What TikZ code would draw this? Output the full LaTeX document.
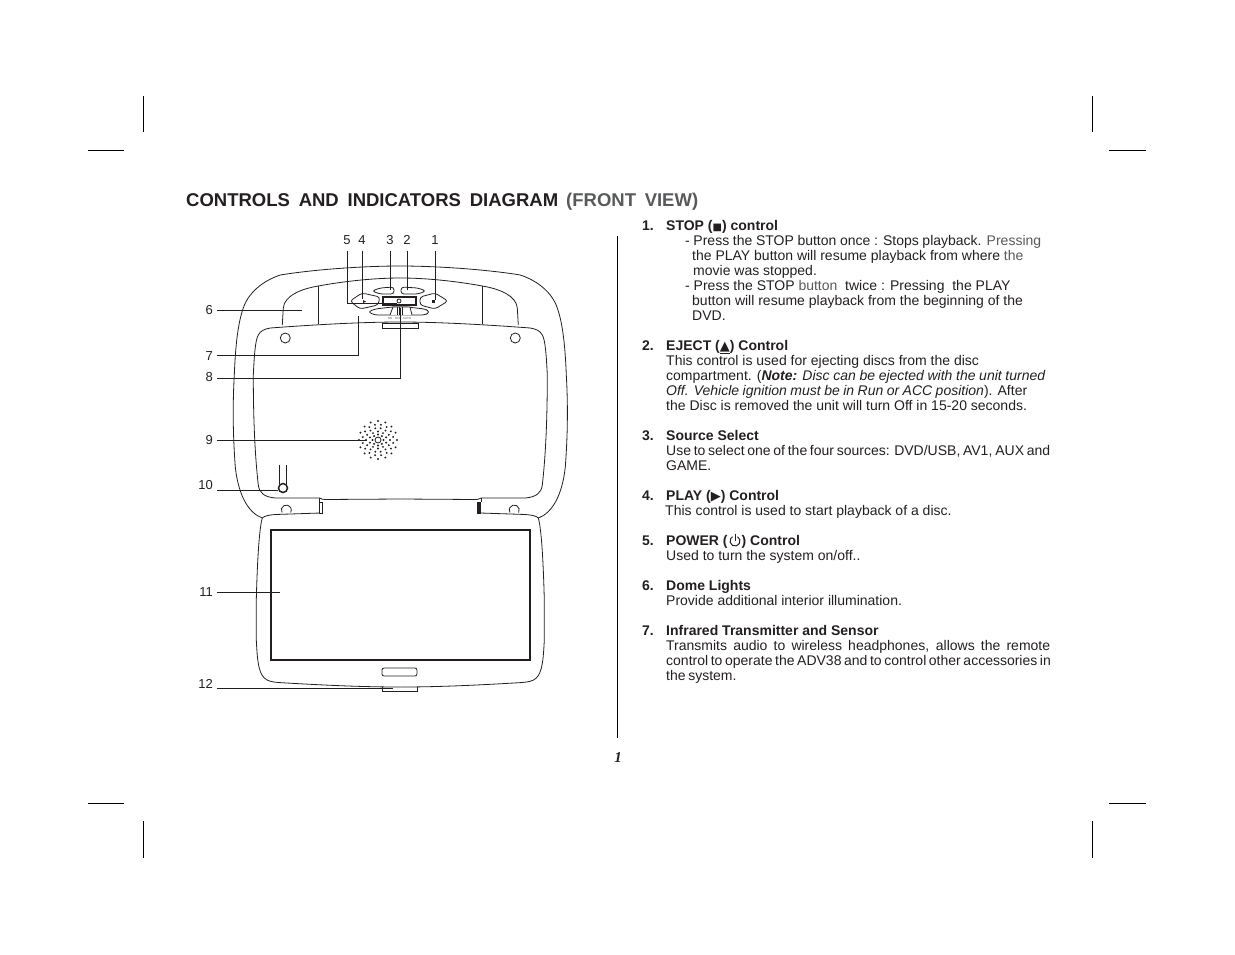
\documentclass[tikz,border=0pt]{standalone}
\usepackage{fontspec}
\setmainfont{Liberation Sans}
\newfontfamily\symfont{DejaVu Sans}
\newfontfamily\pagefont{Liberation Serif}
\definecolor{inkdark}{HTML}{231F20}
\definecolor{inkgrey}{HTML}{58595B}
\newcommand{\fitline}[2]{\makebox[#1pt][s]{#2}}
\newcommand{\smallsym}[1]{{\symfont\fontsize{10}{10}\selectfont #1}}
\newcommand{\widesym}[1]{{\symfont\fontsize{13}{13}\selectfont #1}}
\tikzset{
  line/.style={draw=inkdark,line width=0.8pt},
  leader/.style={draw=inkdark,line width=0.9pt},
  crop/.style={draw=black,line width=0.9pt},
  number/.style={inner sep=0pt,text=inkdark,font=\fontsize{13}{15}\selectfont},
  body/.style={inner sep=0pt,anchor=base west,text=inkdark,font=\fontsize{14}{15}\selectfont},
  head/.style={body,font=\fontsize{14}{15}\selectfont\bfseries},
  title/.style={body,font=\fontsize{18.5}{20}\selectfont\bfseries}
}
\begin{document}
\begin{tikzpicture}[x=1pt,y=-1pt]
\useasboundingbox (0,0) rectangle (1235,954);
%Schnittmarken
\draw [crop] (88,150)--(124,150);
\draw [crop] (143,96)--(143,132);
\draw [crop] (1092,96)--(1092,132);
\draw [crop] (1109,150)--(1146,150);
\draw [crop] (88,803)--(124,803);
\draw [crop] (143,821)--(143,858);
\draw [crop] (1092,821)--(1092,858);
\draw [crop] (1109,803)--(1146,803);
\draw [crop] (617,236)--(617,738);

%Titel
\node (titlea) [title] at (186,206.5) {\fitline{372}{CONTROLS AND INDICATORS DIAGRAM}};
\node (titleb) [title,text=inkgrey] at (566,206.5) {\fitline{132}{(FRONT VIEW)}};

%Gehäuse, beide Hälften
\foreach \sx in {1,-1} {
\begin{scope}[shift={(400.3,0)},xscale=\sx]
\draw [line] (-138,518) .. controls (-152,513) and (-162,495) .. (-165,467) .. controls (-167,440) and (-168,410) .. (-166,375) .. controls (-165,350) and (-163,325) .. (-157,308) .. controls (-152,293) and (-138,281) .. (-120,275) .. controls (-90,270) and (-40,266) .. (0,266);
\draw [line] (-77,499.5)--(-81,498)--(-125,498) .. controls (-136,497) and (-141,493) .. (-142,485) .. controls (-146,450) and (-147,410) .. (-147,375) .. controls (-146,355) and (-145,340) .. (-142,335) .. controls (-140,331) and (-136,329) .. (-130,328) .. controls (-90,325) and (-40,322) .. (0,322);
\draw [line] (-77,499.5)--(0,499);
\draw [line] (-81,498)--(-81,502);
\draw [line] (-118,325)--(-117,308) .. controls (-116,296) and (-100,289) .. (-82,286) .. controls (-55,281) and (-25,278) .. (0,278);
\draw [line] (-82,286)--(-82,324);
\draw [line] (-115,338) circle [radius=5];
%Bildschirmteil
\draw [line] (-80,513)--(-125,514.5) .. controls (-132,515) and (-136,516) .. (-138,518) .. controls (-141,528) and (-143,560) .. (-144,600)--(-144,640) .. controls (-143,660) and (-142,672) .. (-136,678) .. controls (-133,681) and (-128,682) .. (-122,682.5) .. controls (-80,685) and (-40,687) .. (0,687);
\draw [line] (-118.3,512.5) arc [start angle=-210,end angle=30,radius=5];
\end{scope}
}
\draw [line,fill=white] (319.3,502) rectangle (322,513);
\draw [line,fill=inkdark] (477.3,502) rectangle (480.7,513);
\draw [line,fill=white] (382,323) rectangle (418,328);
\draw [line,line width=1.8pt] (271,530) rectangle (530,660);
\draw [line,rounded corners=2pt] (382,668) rectangle (417,676);
\draw [line] (382,687)--(382,691)--(417,691)--(417,687);

%Tasten
\draw [line,rounded corners=3pt] (350,301)--(362,293)--(380,297)--(378,305)--(360,309)--cycle;
\draw [line,rounded corners=3pt] (448,301)--(435,293)--(420,297)--(420,305)--(435,309)--cycle;
\fill [inkdark] (363,300)--(366,301.5)--(363,303)--cycle;
\fill [inkdark] (432,300) rectangle (435,303);
\draw [line,rounded corners=3pt] (372,291)--(380,288)--(394,287)--(394,294)--(380,294)--cycle;
\draw [line,rounded corners=3pt] (426,291)--(418,288)--(401,287)--(401,294)--(418,294)--cycle;
\draw [line,line width=1.2pt] (383,297) rectangle (416,305);
\draw [line] (399,301) circle [radius=2];
\draw [line,rounded corners=3pt] (368,312)--(375,309)--(392,307)--(407,307)--(425,309)--(430,312)--(425,315)--(410,315)--(390,315)--(375,315)--cycle;
\draw [line,fill=white] (390,315)--(393,307)--(410,307)--(412,315);
\draw [line] (397,307)--(397,315) (399.5,307)--(399.5,315) (402,307)--(402,315);
\node (modeon) [number,text=inkgrey,font=\fontsize{3}{3}\selectfont] at (390,318) {ON};
\node (modeoff) [number,text=inkgrey,font=\fontsize{3}{3}\selectfont] at (398,318) {OFF};
\node (modeauto) [number,text=inkgrey,font=\fontsize{3}{3}\selectfont] at (407,318) {AUTO};

%Lautsprecher
\foreach \rad/\num/\off in {19/16/0,15.5/16/11,12/14/0,8.5/10/18,5.5/8/0} {
  \foreach \i in {1,...,\num} {
    \fill [inkdark] ({378+\rad*cos(360*\i/\num+\off)},{440+\rad*sin(360*\i/\num+\off)}) circle [radius=1.05];
  }
}
\draw [line] (378,440) circle [radius=3];

%Sensor
\draw [line] (279.5,465)--(279.5,484) (286,465)--(286,484);
\draw [line,line width=1.5pt,fill=white] (283,488) circle [radius=4.5];

%Nummern mit Linien
\coordinate (stop5) at (397,303);
\coordinate (stop4) at (362,299);
\coordinate (stop3) at (390,290);
\coordinate (stop2) at (407,290);
\coordinate (stop1) at (435,300);
\coordinate (stop6) at (302,310);
\coordinate (stop7) at (358,316);
\coordinate (stop8) at (400,308);
\coordinate (stop9) at (367,440);
\coordinate (stop10) at (278,490);
\coordinate (stop11) at (280,592);
\coordinate (stop12) at (393,688);
\coordinate (bend7) at (358,355);
\coordinate (bend8) at (400,378);

\node (num5) [number,inner ysep=6pt] at (347,240) {5};
\node (num4) [number,inner ysep=6pt] at (362,240) {4};
\node (num3) [number,inner ysep=6pt] at (390,240) {3};
\node (num2) [number,inner ysep=6pt] at (407,240) {2};
\node (num1) [number,inner ysep=6pt] at (435,240) {1};
\node (num6) [number,anchor=east,inner xsep=4pt] at (217,310) {6};
\node (num7) [number,anchor=east,inner xsep=4pt] at (217,356) {7};
\node (num8) [number,anchor=east,inner xsep=4pt] at (217,377) {8};
\node (num9) [number,anchor=east,inner xsep=4pt] at (217,440) {9};
\node (num10) [number,anchor=east,inner xsep=4pt] at (217,485) {10};
\node (num11) [number,anchor=east,inner xsep=4pt] at (217,592) {11};
\node (num12) [number,anchor=east,inner xsep=4pt] at (217,684) {12};

\draw [leader] (num5.south) |- (stop5);
\draw [leader] (num4.south) -- (stop4);
\draw [leader] (num3.south) -- (stop3);
\draw [leader] (num2.south) -- (stop2);
\draw [leader] (num1.south) -- (stop1);
\draw [leader] (num6.east |- stop6) -- (stop6);
\draw [leader] (num7.east |- bend7) -- (bend7) -- (stop7);
\draw [leader] (num8.east |- bend8) -- (bend8) -- (stop8);
\draw [leader] (num9.east |- stop9) -- (stop9);
\draw [leader] (num10.east |- stop10) -- (stop10);
\draw [leader] (num11.east |- stop11) -- (stop11);
\draw [leader] (num12.east |- stop12) -- (stop12);

%Text rechts
\node (ia) [head] at (642,230) {1.};
\node (ia0) [head] at (666,230) {STOP (\smallsym{■}) control};
\node (ia1) [body] at (685,245) {\fitline{356}{- Press the STOP button once : Stops playback. {\color{inkgrey}Pressing}}};
\node (ia2) [body] at (692,260) {the PLAY button will resume playback from where {\color{inkgrey}the}};
\node (ia3) [body] at (693,275) {movie was stopped.};
\node (ia4) [body] at (685,290) {- Press the STOP {\color{inkgrey}button} \ twice : Pressing \ the PLAY};
\node (ia5) [body] at (692,305) {button will resume playback from the beginning of the};
\node (ia6) [body] at (692,320) {DVD.};

\node (ib) [head] at (642,350) {2.};
\node (ib0) [head] at (666,350) {EJECT (\widesym{\underline{▲}}) Control};
\node (ib1) [body] at (666,365) {This control is used for ejecting discs from the disc};
\node (ib2) [body] at (666,380) {\fitline{379}{compartment. ({\bfseries\itshape Note:} {\itshape Disc can be ejected with the unit turned}}};
\node (ib3) [body] at (666,395) {\fitline{361}{{\itshape Off. Vehicle ignition must be in Run or ACC position}). After}};
\node (ib4) [body] at (666,410) {the Disc is removed the unit will turn Off in 15-20 seconds.};

\node (ic) [head] at (642,440) {3.};
\node (ic0) [head] at (666,440) {Source Select};
\node (ic1) [body] at (666,455) {\fitline{384}{Use to select one of the four sources: DVD/USB, AV1, AUX and}};
\node (ic2) [body] at (666,470) {GAME.};

\node (id) [head] at (642,500) {4.};
\node (id0) [head] at (666,500) {PLAY (\widesym{▶}) Control};
\node (id1) [body] at (665,515) {This control is used to start playback of a disc.};

\node (ie) [head] at (642,545) {5.};
\node (ie0) [head] at (666,545) {POWER (\hspace{14pt}) Control};
\node (ie1) [body] at (666,560) {Used to turn the system on/off..};
\draw [line,line width=1pt] (737.5,536.7) arc [start angle=-60,end angle=240,radius=5];
\draw [line,line width=1pt] (735,533.5)--(735,540.5);

\node (if) [head] at (642,590) {6.};
\node (if0) [head] at (666,590) {Dome Lights};
\node (if1) [body] at (666,605) {Provide additional interior illumination.};

\node (ig) [head] at (642,635) {7.};
\node (ig0) [head] at (666,635) {Infrared Transmitter and Sensor};
\node (ig1) [body] at (666,650) {\fitline{384}{Transmits audio to wireless headphones, allows the remote}};
\node (ig2) [body] at (666,665) {\fitline{384}{control to operate the ADV38 and to control other accessories in}};
\node (ig3) [body] at (666,680) {\fitline{69}{the system.}};

\node (pagenum) [number,font=\fontsize{15}{15}\pagefont\bfseries\itshape] at (618,758) {1};
\end{tikzpicture}
\end{document}
